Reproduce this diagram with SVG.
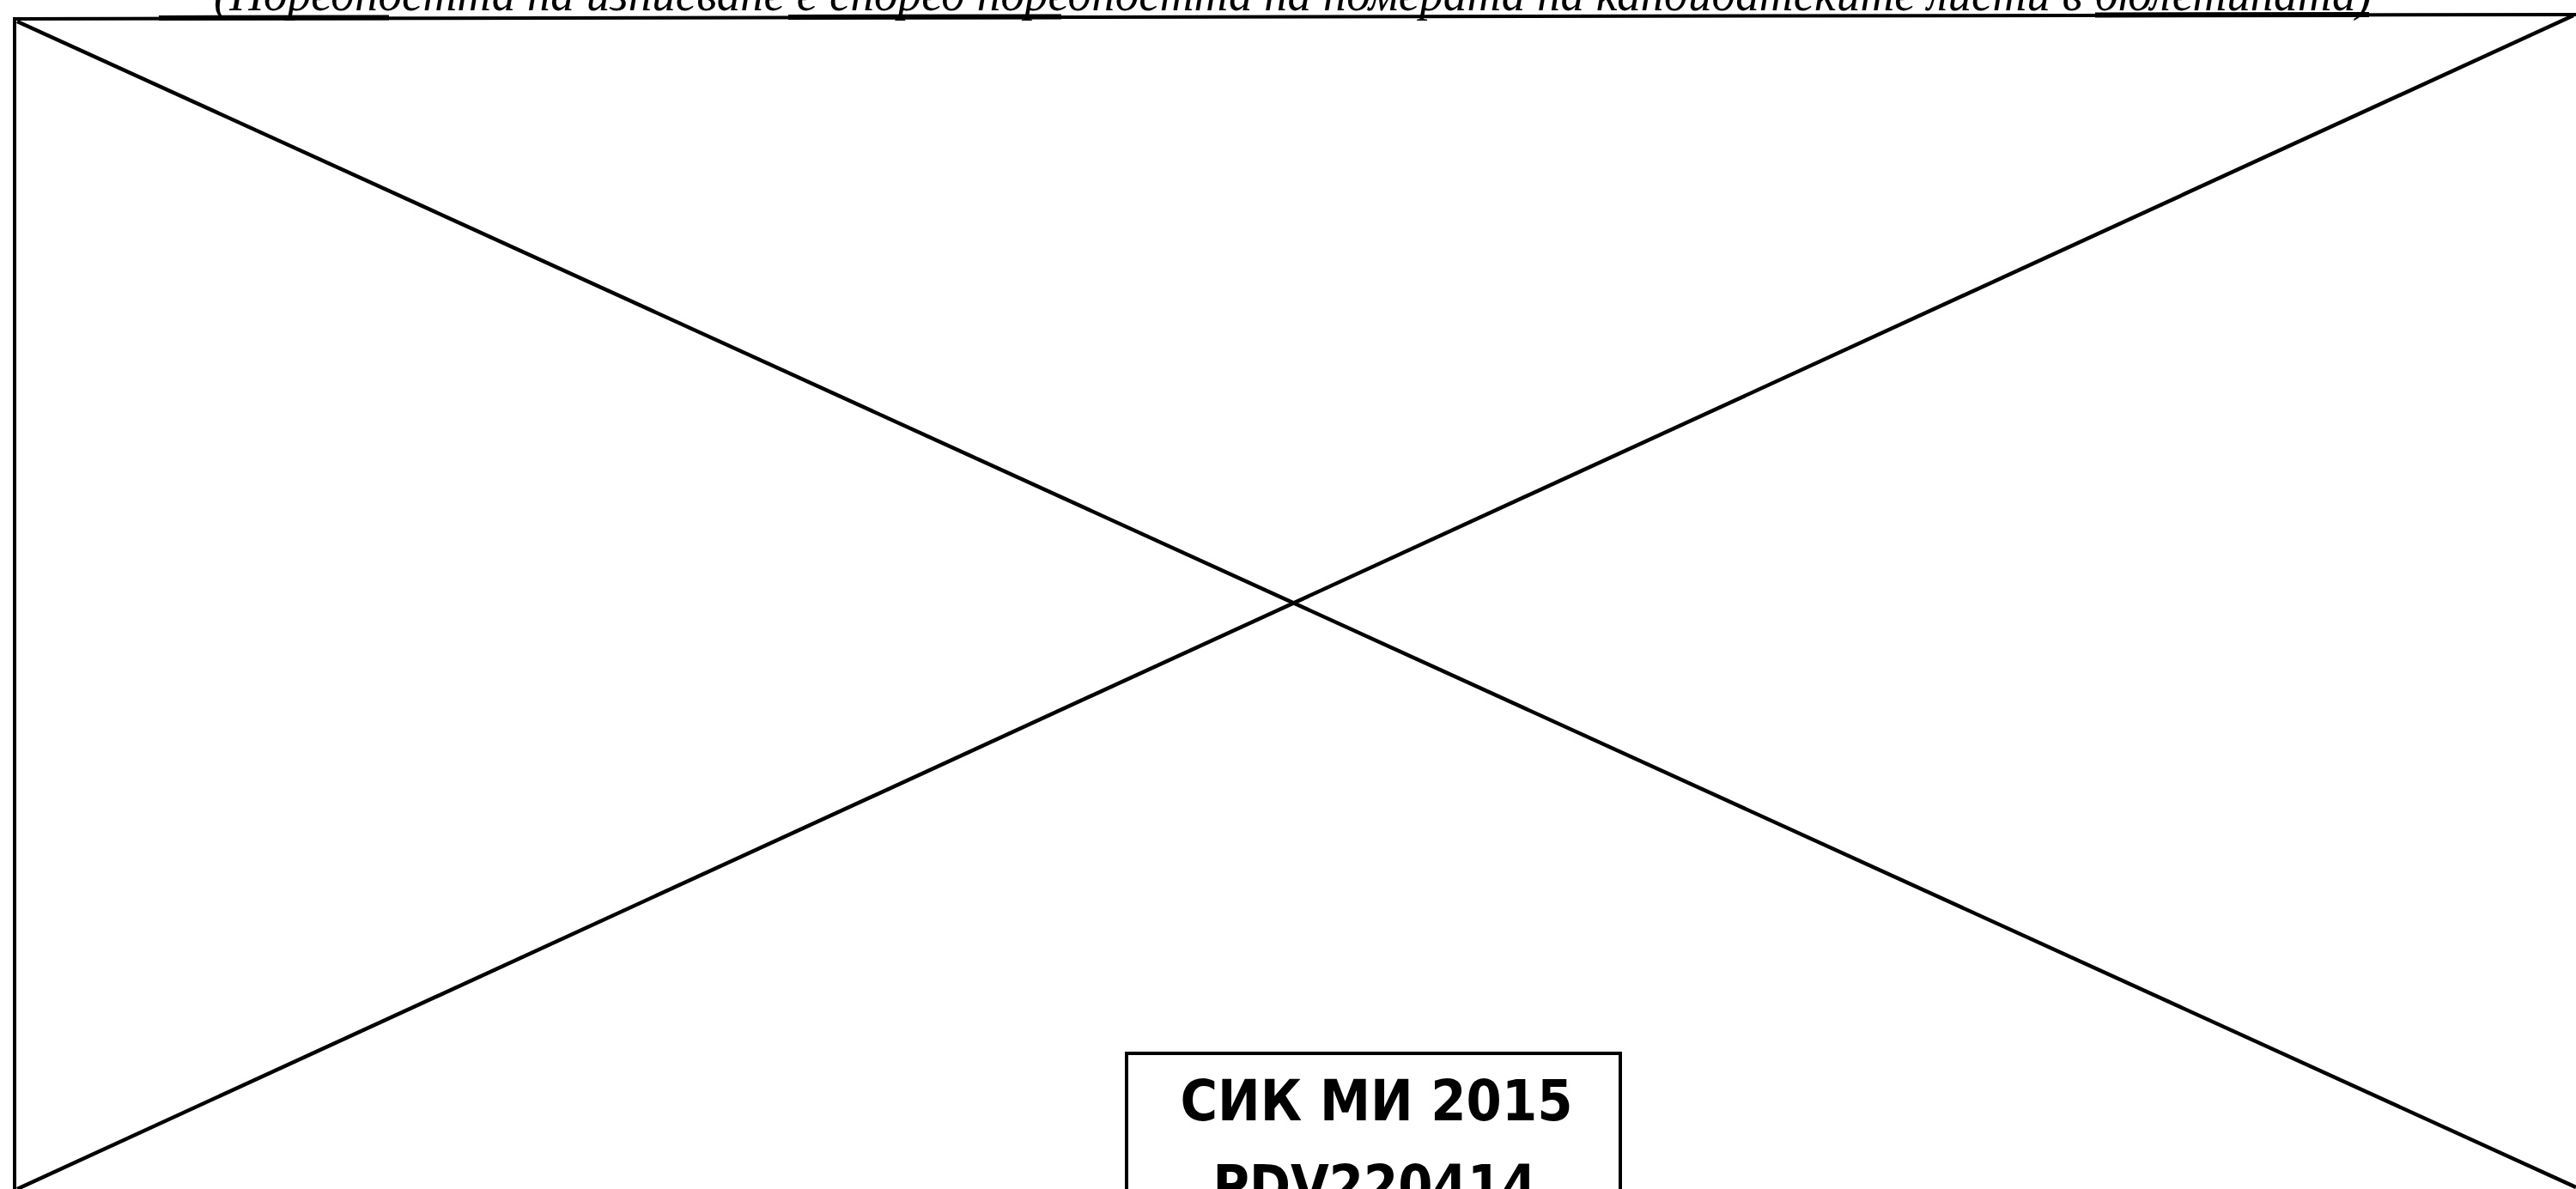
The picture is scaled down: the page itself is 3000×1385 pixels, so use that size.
<svg xmlns="http://www.w3.org/2000/svg" width="3000" height="1385" viewBox="0 0 3000 1385">
<style>
.ln{stroke:#000;stroke-width:4;fill:none;stroke-linecap:square}
.diag{stroke:#000;stroke-width:4.5;fill:none}
.thick{stroke:#000;stroke-width:6;fill:none}
.hdr{font-family:"Liberation Serif",serif;font-style:italic;font-size:57px;fill:#000}
.stamp{font-family:"DejaVu Sans","Liberation Sans",sans-serif;font-weight:bold;font-size:65px;fill:#000;text-anchor:middle}
</style>
<rect width="3000" height="1385" fill="#fff"/>
<g id="header">
<text class="hdr" x="249" y="12" textLength="2513" lengthAdjust="spacingAndGlyphs">(Поредността на изписване е според поредността на номерата на кандидатските листи в бюлетината)</text>
</g>
<g id="frame">
<line class="ln" x1="17" y1="22" x2="3000" y2="17"/>
<line class="thick" x1="185" y1="21" x2="453" y2="20.5"/>
<line class="thick" x1="918" y1="20" x2="1236" y2="19.5"/>
<line class="thick" x1="2440" y1="17.5" x2="2759" y2="17"/>
<line class="ln" x1="17" y1="22" x2="17" y2="1385"/>
</g>
<g id="connectors">
<line class="diag" x1="20" y1="25" x2="3000" y2="1383"/>
<line class="diag" x1="20" y1="1385" x2="2997" y2="18"/>
</g>
<g id="stamp">
<rect class="ln" x="1312" y="1227" width="575" height="200" fill="#fff"/>
<text class="stamp" x="1603" y="1305" textLength="457" lengthAdjust="spacingAndGlyphs">СИК МИ 2015</text>
<text class="stamp" x="1601" y="1404" textLength="377" lengthAdjust="spacingAndGlyphs">PDV220414</text>
</g>
</svg>
